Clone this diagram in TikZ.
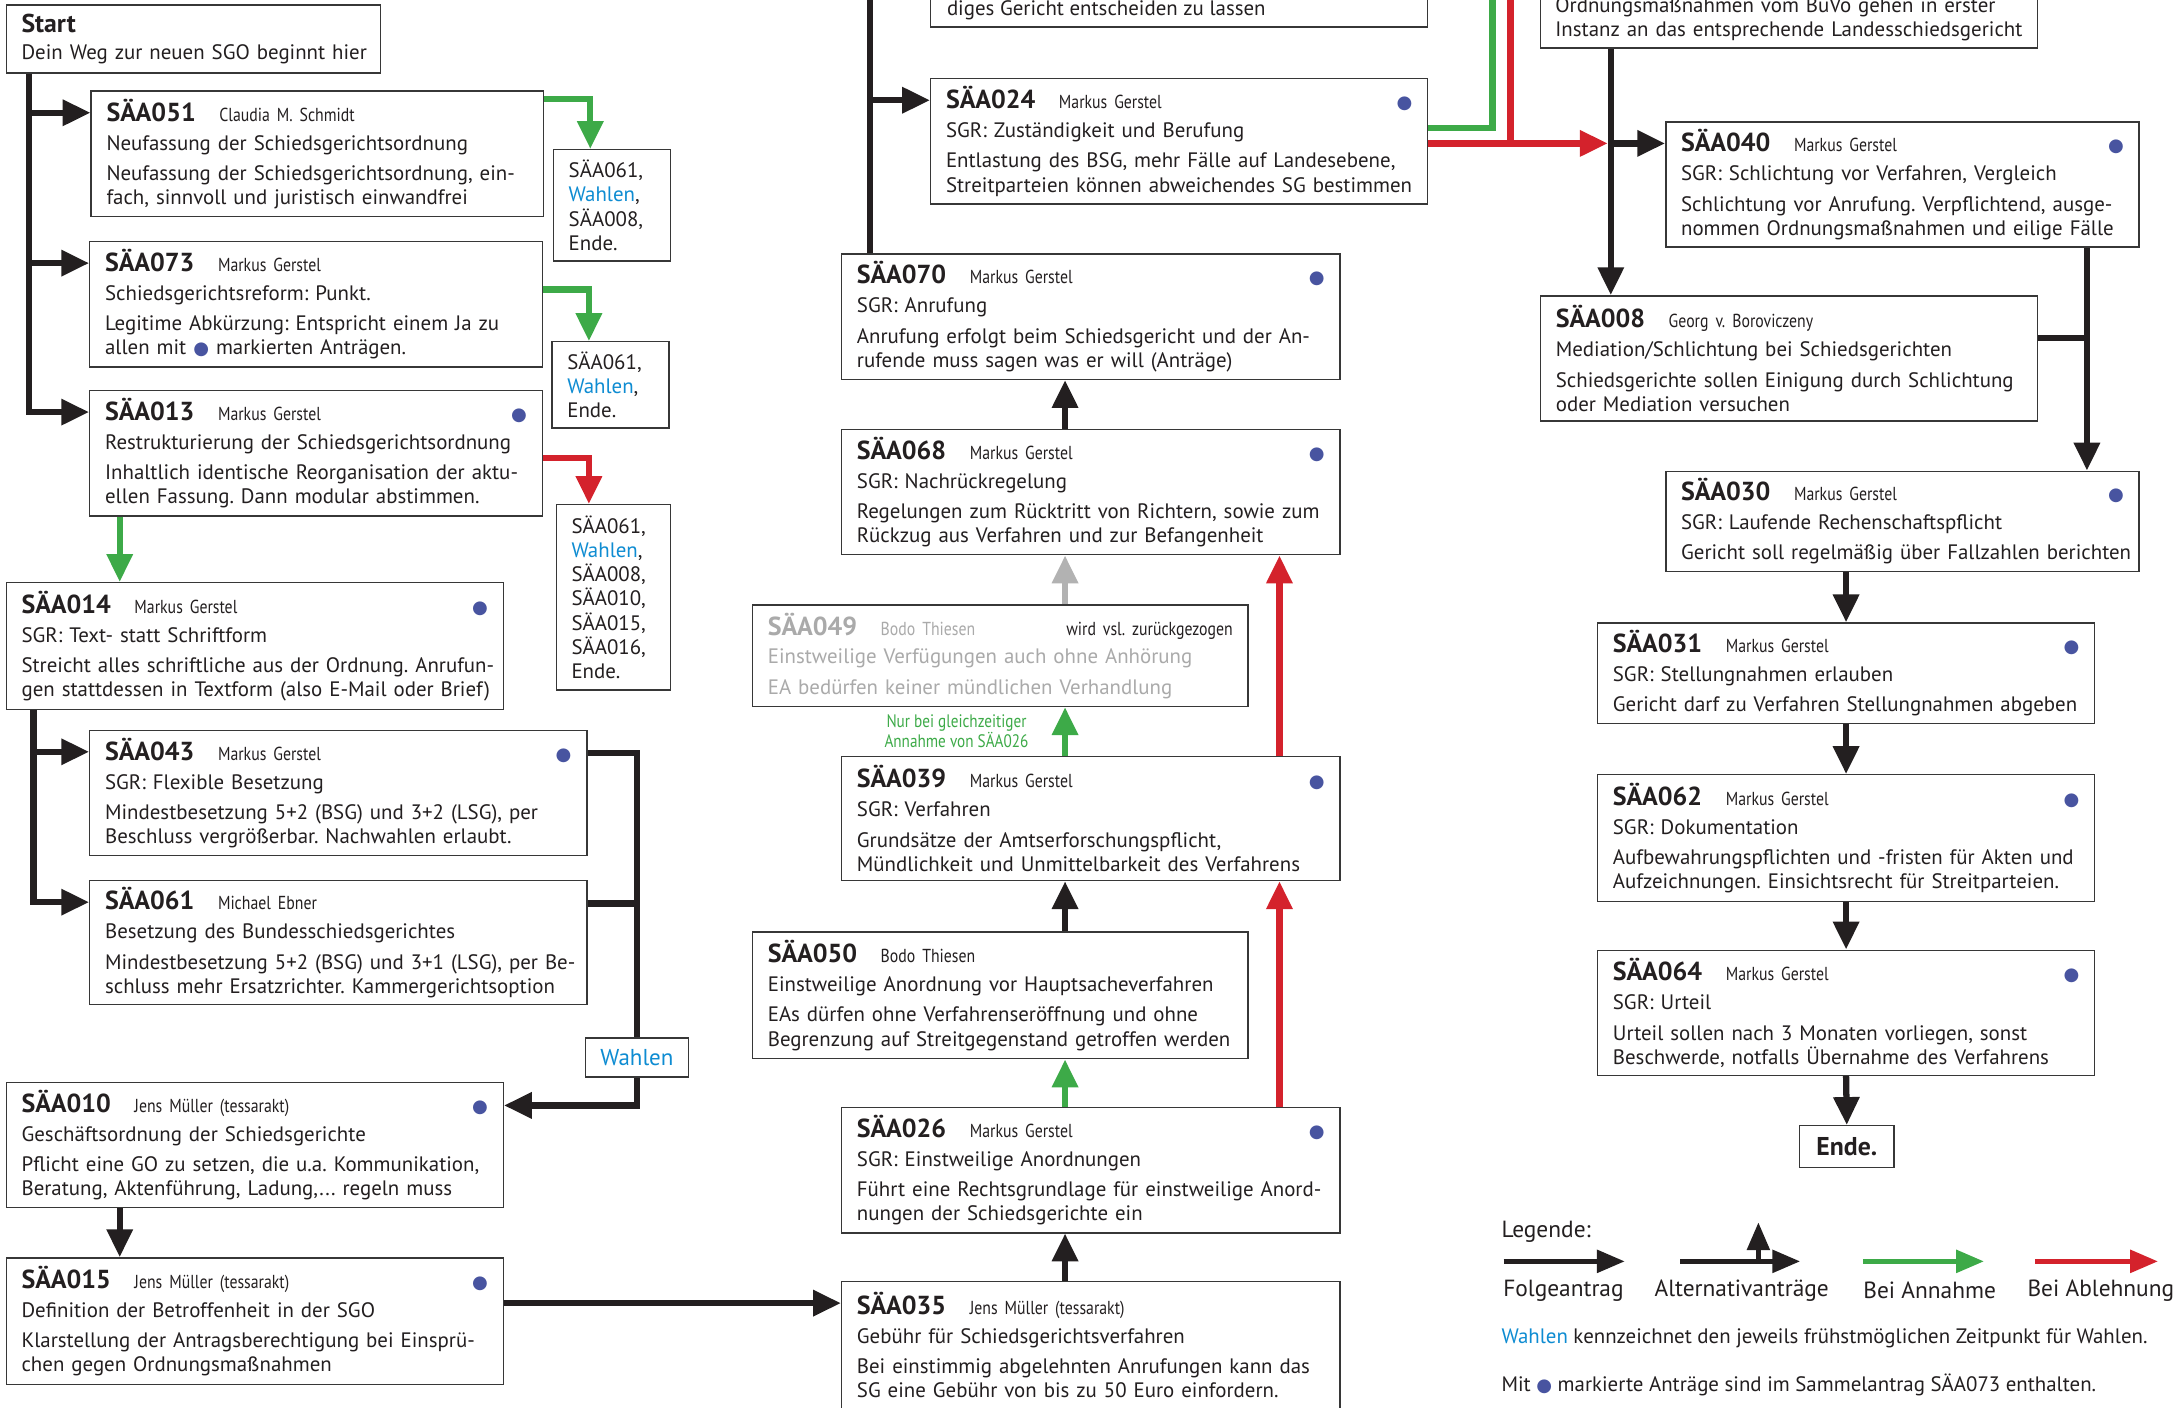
\documentclass[tikz,border=0pt]{standalone}
\usepackage{fontspec}
\setmainfont{PT Sans}
\newfontfamily\autorfamilie[FakeStretch=0.84]{PT Sans}
\newfontfamily\symbolfamilie{DejaVu Sans}
\usepackage{xcolor}
\usepackage{tikz}
\usetikzlibrary{arrows.meta}

\definecolor{gruen}{RGB}{61,170,72}
\definecolor{rot}{RGB}{212,34,44}
\definecolor{wahlblau}{RGB}{14,140,210}
\definecolor{punktblau}{RGB}{72,84,160}
\definecolor{grau}{RGB}{178,178,178}
\definecolor{grautext}{RGB}{170,170,170}
\definecolor{rahmen}{RGB}{55,55,55}
\definecolor{schwarz}{RGB}{35,31,32}

\setlength{\parindent}{0pt}
\frenchspacing
\hfuzz=30pt
\hbadness=10000
\newcommand{\grund}{\fontsize{15}{17.3}\selectfont}
\newcommand{\autor}[1]{{\autorfamilie\fontsize{13.5}{16}\selectfont #1}}
\newcommand{\punkt}{{\symbolfamilie\fontsize{13}{13}\selectfont\textcolor{punktblau}{●}}}
\newcommand{\nummer}[1]{{\fontsize{18.7}{18.7}\selectfont\bfseries SÄA#1}\hspace{17pt}}
\newcommand{\kopf}[2]{\nummer{#1}\autor{#2}\par\vspace{3.5pt}}
\newcommand{\kopfp}[2]{\nummer{#1}\autor{#2}\hfill\punkt\par\vspace{3.5pt}}
\newcommand{\luecke}{\par\vspace{4.5pt}}
\newcommand{\voll}[1]{\par\hbox to\hsize{#1}}
\newcommand{\zeile}[1]{\mbox{#1}\par}
\newcommand{\wahl}{\textcolor{wahlblau}{Wahlen}}

\begin{document}
\begin{tikzpicture}[x=1pt, y=-1pt,
    antrag/.style={draw=rahmen, line width=1pt, fill=white, anchor=north west,
        inner xsep=11pt, inner ysep=4pt, align=left, font=\grund, text=schwarz},
    folgelinie/.style={line width=4.5pt, draw=schwarz},
    folge/.style={folgelinie, -{Triangle[length=20pt,width=18pt]}},
    annahme/.style={folge, draw=gruen},
    annahmelinie/.style={folgelinie, draw=gruen},
    ablehnung/.style={folge, draw=rot},
    ablehnunglinie/.style={folgelinie, draw=rot},
    legendpfeil/.style={line width=3.5pt, -{Triangle[length=20pt,width=16pt]}}]
    \fill[white] (0,0) rectangle (1568,1011);
    \clip (0,0) rectangle (1568,1011);

    % linke Spalte
    \node[antrag, text width=247pt, minimum height=49] (start) at (4,3)
        {{\fontsize{18.5}{18.5}\selectfont\bfseries Start}\par\vspace{2pt}\mbox{Dein Weg zur neuen SGO beginnt hier}};
    \node[antrag, text width=303pt, minimum height=90] (saa051) at (65,65)
        {\kopf{051}{Claudia M. Schmidt}Neufassung der Schiedsgerichtsordnung\luecke
        \voll{Neufassung der Schiedsgerichtsordnung, ein-}\zeile{fach, sinnvoll und juristisch einwandfrei}};
    \node[antrag, text width=303pt, minimum height=90] (saa073) at (64,173)
        {\kopf{073}{Markus Gerstel}Schiedsgerichtsreform: Punkt.\luecke
        \voll{Legitime Abkürzung: Entspricht einem Ja zu}\zeile{allen mit \punkt{} markierten Anträgen.}};
    \node[antrag, text width=303pt, minimum height=90] (saa013) at (64,280)
        {\kopfp{013}{Markus Gerstel}Restrukturierung der Schiedsgerichtsordnung\luecke
        \voll{Inhaltlich identische Reorganisation der aktu-}\zeile{ellen Fassung. Dann modular abstimmen.}};
    \node[antrag, text width=62pt, minimum height=80] (folgeA) at (397,107)
        {SÄA061,\\\wahl,\\SÄA008,\\Ende.};
    \node[antrag, text width=62pt, minimum height=62] (folgeB) at (396,245)
        {SÄA061,\\\wahl,\\Ende.};
    \node[antrag, text width=60pt, minimum height=133] (folgeC) at (399,362)
        {SÄA061,\\\wahl,\\SÄA008,\\SÄA010,\\SÄA015,\\SÄA016,\\Ende.};
    \node[antrag, text width=335pt, minimum height=91] (saa014) at (4,418)
        {\kopfp{014}{Markus Gerstel}SGR: Text- statt Schriftform\luecke
        \voll{Streicht alles schriftliche aus der Ordnung. Anrufun-}\zeile{gen stattdessen in Textform (also E-Mail oder Brief)}};
    \node[antrag, text width=335pt, minimum height=90] (saa043) at (64,524)
        {\kopfp{043}{Markus Gerstel}SGR: Flexible Besetzung\luecke
        \voll{Mindestbesetzung 5+2 (BSG) und 3+2 (LSG), per}\zeile{Beschluss vergrößerbar. Nachwahlen erlaubt.}};
    \node[antrag, text width=335pt, minimum height=89] (saa061) at (64,632)
        {\kopf{061}{Michael Ebner}Besetzung des Bundesschiedsgerichtes\luecke
        \voll{Mindestbesetzung 5+2 (BSG) und 3+1 (LSG), per Be-}\zeile{schluss mehr Ersatzrichter. Kammergerichtsoption}};
    \node[antrag, minimum width=74, minimum height=28, inner sep=0pt, text=wahlblau,
        font=\fontsize{16.5}{18}\selectfont] (wahlen) at (420,745) {Wahlen};
    \node[antrag, text width=335pt, minimum height=90] (saa010) at (4,777)
        {\kopfp{010}{Jens Müller (tessarakt)}Geschäftsordnung der Schiedsgerichte\luecke
        \voll{Pflicht eine GO zu setzen, die u.a. Kommunikation,}\zeile{Beratung, Aktenführung, Ladung,... regeln muss}};
    \node[antrag, text width=335pt, minimum height=91] (saa015) at (4,903)
        {\kopfp{015}{Jens Müller (tessarakt)}Definition der Betroffenheit in der SGO\luecke
        \voll{Klarstellung der Antragsberechtigung bei Einsprü-}\zeile{chen gegen Ordnungsmaßnahmen}};

    % mittlere Spalte
    \node[antrag, minimum width=357, minimum height=60, anchor=south west] (vorgabe) at (668,20) {};
    \node[anchor=south west, inner sep=0pt, font=\grund, text=schwarz] (vorgabetext)
        at ([xshift=12pt,yshift=5.5pt]vorgabe.south west) {diges Gericht entscheiden zu lassen};
    \node[antrag, text width=335pt, minimum height=90] (saa024) at (668,56)
        {\kopfp{024}{Markus Gerstel}SGR: Zuständigkeit und Berufung\luecke
        \voll{Entlastung des BSG, mehr Fälle auf Landesebene,}\zeile{Streitparteien können abweichendes SG bestimmen}};
    \node[antrag, text width=336pt, minimum height=90] (saa070) at (604,182)
        {\kopfp{070}{Markus Gerstel}SGR: Anrufung\luecke
        \voll{Anrufung erfolgt beim Schiedsgericht und der An-}\zeile{rufende muss sagen was er will (Anträge)}};
    \node[antrag, text width=336pt, minimum height=90] (saa068) at (604,308)
        {\kopfp{068}{Markus Gerstel}SGR: Nachrückregelung\luecke
        \voll{Regelungen zum Rücktritt von Richtern, sowie zum}\zeile{Rückzug aus Verfahren und zur Befangenheit}};
    \node[antrag, text width=334pt, minimum height=73, text=grautext] (saa049) at (540,434)
        {\nummer{049}\autor{Bodo Thiesen}\hfill\textcolor{schwarz}{\autor{wird vsl. zurückgezogen}}\par\vspace{3.5pt}
        Einstweilige Verfügungen auch ohne Anhörung\luecke\zeile{EA bedürfen keiner mündlichen Verhandlung}};
    \node[antrag, text width=336pt, minimum height=89] (saa039) at (604,543)
        {\kopfp{039}{Markus Gerstel}SGR: Verfahren\luecke
        \zeile{Grundsätze der Amtserforschungspflicht,}\zeile{Mündlichkeit und Unmittelbarkeit des Verfahrens}};
    \node[antrag, text width=334pt, minimum height=91] (saa050) at (540,669)
        {\kopf{050}{Bodo Thiesen}Einstweilige Anordnung vor Hauptsacheverfahren\luecke
        \voll{EAs dürfen ohne Verfahrenseröffnung und ohne}\zeile{Begrenzung auf Streitgegenstand getroffen werden}};
    \node[antrag, text width=336pt, minimum height=90] (saa026) at (604,795)
        {\kopfp{026}{Markus Gerstel}SGR: Einstweilige Anordnungen\luecke
        \voll{Führt eine Rechtsgrundlage für einstweilige Anord-}\zeile{nungen der Schiedsgerichte ein}};
    \node[antrag, text width=336pt, minimum height=91] (saa035) at (604,920)
        {\kopf{035}{Jens Müller (tessarakt)}Gebühr für Schiedsgerichtsverfahren\luecke
        \voll{Bei einstimmig abgelehnten Anrufungen kann das}\zeile{SG eine Gebühr von bis zu 50 Euro einfordern.}};
    \node[text=gruen, align=center, font=\autorfamilie\fontsize{13}{13}\selectfont] (hinweis) at (687,525)
        {Nur bei gleichzeitiger\\Annahme von SÄA026};

    % rechte Spalte
    \node[antrag, minimum width=357, minimum height=80, anchor=south west] (oberinstanz) at (1106,35) {};
    \node[anchor=south west, inner sep=0pt, text width=335pt, font=\grund, text=schwarz] (oberinstanztext)
        at ([xshift=11pt,yshift=5.5pt]oberinstanz.south west)
        {\voll{Ordnungsmaßnahmen vom BuVo gehen in erster}\zeile{Instanz an das entsprechende Landesschiedsgericht}};
    \node[antrag, text width=318pt, minimum height=90] (saa040) at (1196,87)
        {\kopfp{040}{Markus Gerstel}SGR: Schlichtung vor Verfahren, Vergleich\luecke
        \voll{Schlichtung vor Anrufung. Verpflichtend, ausge-}\zeile{nommen Ordnungsmaßnahmen und eilige Fälle}};
    \node[antrag, text width=335pt, minimum height=90] (saa008) at (1106,212)
        {\kopf{008}{Georg v. Boroviczeny}Mediation/Schlichtung bei Schiedsgerichten\luecke
        \voll{Schiedsgerichte sollen Einigung durch Schlichtung}\zeile{oder Mediation versuchen}};
    \node[antrag, text width=318pt, minimum height=72] (saa030) at (1196,338)
        {\kopfp{030}{Markus Gerstel}SGR: Laufende Rechenschaftspflicht\luecke
        \zeile{Gericht soll regelmäßig über Fallzahlen berichten}};
    \node[antrag, text width=335pt, minimum height=72] (saa031) at (1147,447)
        {\kopfp{031}{Markus Gerstel}SGR: Stellungnahmen erlauben\luecke
        \zeile{Gericht darf zu Verfahren Stellungnahmen abgeben}};
    \node[antrag, text width=335pt, minimum height=91] (saa062) at (1147,556)
        {\kopfp{062}{Markus Gerstel}SGR: Dokumentation\luecke
        \voll{Aufbewahrungspflichten und -fristen für Akten und}\zeile{Aufzeichnungen. Einsichtsrecht für Streitparteien.}};
    \node[antrag, text width=335pt, minimum height=90] (saa064) at (1147,682)
        {\kopfp{064}{Markus Gerstel}SGR: Urteil\luecke
        \zeile{Urteil sollen nach 3 Monaten vorliegen, sonst}\zeile{Beschwerde, notfalls Übernahme des Verfahrens}};
    \node[antrag, minimum width=68, minimum height=30, inner sep=0pt,
        font=\fontsize{18.5}{18.5}\selectfont\bfseries] (ende) at (1292,808) {Ende.};

    % Einstiegspunkte auf Hoehe der Kopfzeile
    \foreach \n in {051,073,013,043,061,024,040,035}
        \coordinate (w\n) at ([yshift=-16pt]saa\n.north west);
    \foreach \n in {043,061,010}
        \coordinate (e\n) at ([yshift=-17pt]saa\n.north east);
    \coordinate (mitte) at ([xshift=161pt]saa026.south west);
    \coordinate (rechts) at ([xshift=315pt]saa026.south west);
    \coordinate (obenA) at (625,-10);
    \coordinate (obenG) at (1072,-10);
    \coordinate (obenR) at (1085,-10);

    % Pfeile links
    \draw[folge] ([xshift=17pt]start.south west) coordinate (t0) |- (w013);
    \draw[folge] (t0 |- w051) -- (w051);
    \draw[folge] (t0 |- w073) -- (w073);
    \draw[annahme] ([yshift=-6pt]saa051.north east) -| ([xshift=27pt]folgeA.north west);
    \draw[annahme] ([yshift=-35pt]saa073.north east) -| ([xshift=27pt]folgeB.north west);
    \draw[ablehnung] ([yshift=-49pt]saa013.north east) -| ([xshift=24pt]folgeC.north west);
    \draw[annahme] ([xshift=22pt]saa013.south west) coordinate (g013) -- (g013 |- saa014.north);
    \draw[folge] ([xshift=20pt]saa014.south west) coordinate (t014) |- (w061);
    \draw[folge] (t014 |- w043) -- (w043);
    \draw[folgelinie] (e043) -| (wahlen.north);
    \draw[folgelinie] (e061) -- (e061 -| wahlen.north);
    \draw[folge] (wahlen.south) |- (e010);
    \draw[folge] ([xshift=82pt]saa010.south west) coordinate (g010) -- (g010 |- saa015.north);
    \draw[folge] (w035 -| saa015.east) -- (w035);

    % Pfeile Mitte
    \draw[folge] (saa035.north -| mitte) -- (saa026.south -| mitte);
    \draw[annahme] (saa026.north -| mitte) -- (saa050.south -| mitte);
    \draw[ablehnung] (saa026.north -| rechts) -- (saa039.south -| rechts);
    \draw[folge] (saa050.north -| mitte) -- (saa039.south -| mitte);
    \draw[annahme] (saa039.north -| mitte) -- (saa049.south -| mitte);
    \draw[ablehnung] (saa039.north -| rechts) -- (saa068.south -| rechts);
    \draw[folge, draw=grau] (saa049.north -| mitte) -- (saa068.south -| mitte);
    \draw[folge] (saa068.north -| mitte) -- (saa070.south -| mitte);
    \draw[folgelinie] (saa070.north -| obenA) -- (obenA);
    \draw[folge] (w024 -| obenA) -- (w024);

    % Pfeile rechts
    \draw[annahmelinie] ([yshift=-36pt]saa024.north east) -| (obenG);
    \draw[ablehnunglinie] (obenR) -- (obenR |- w040);
    \draw[folge] ([xshift=51pt]oberinstanz.south west) coordinate (t1) -- (t1 |- saa008.north);
    \draw[folge] (t1 |- w040) -- (w040);
    \draw[ablehnung, shorten >=2.2pt] (w040 -| saa024.east) -- (t1 |- w040);
    \draw[folge] ([xshift=-38pt]saa040.south east) coordinate (t2) -- (t2 |- saa030.north);
    \draw[folgelinie] ([yshift=-31pt]saa008.north east) coordinate (e008) -- (e008 -| t2);
    \draw[folge] (saa030.south -| saa031.north) -- (saa031.north);
    \draw[folge] (saa031.south) -- (saa062.north);
    \draw[folge] (saa062.south) -- (saa064.north);
    \draw[folge] (saa064.south) -- (ende.north);

    % Legende
    \begin{scope}[every node/.style={font=\fontsize{16.8}{18}\selectfont, text=schwarz}]
        \node[anchor=west] (legende) at (1075,885) {Legende:};
        \node (lfolge) at (1123,927) {Folgeantrag};
        \node (lalt) at (1251,927) {Alternativanträge};
        \node (lannahme) at (1386,927) {Bei Annahme};
        \node (lablehnung) at (1509,927) {Bei Ablehnung};
    \end{scope}
    \draw[legendpfeil, schwarz] ([xshift=-43pt,yshift=21pt]lfolge.center) -- ++(87,0);
    \draw[legendpfeil, schwarz] ([xshift=-44pt,yshift=21pt]lalt.center) -- ++(86,0);
    \draw[legendpfeil, schwarz] ([xshift=12pt,yshift=21pt]lalt.center) -- ++(0,-28);
    \draw[legendpfeil, gruen] ([xshift=-48pt,yshift=21pt]lannahme.center) -- ++(87,0);
    \draw[legendpfeil, rot] ([xshift=-47pt,yshift=21pt]lablehnung.center) -- ++(88,0);
    \node[anchor=west, font=\grund, text=schwarz] (wahlhinweis) at (1075,961)
        {\wahl{} kennzeichnet den jeweils frühstmöglichen Zeitpunkt für Wahlen.};
    \node[anchor=west, font=\grund, text=schwarz] (punkthinweis) at (1075,995)
        {Mit \punkt{} markierte Anträge sind im Sammelantrag SÄA073 enthalten.};
\end{tikzpicture}
\end{document}
